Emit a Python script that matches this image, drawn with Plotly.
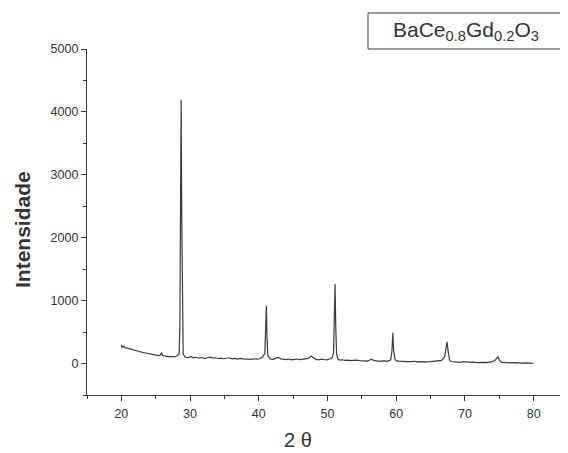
import plotly.graph_objects as go

two_theta = [
    20.0, 20.1, 20.3, 20.6, 21.0, 21.4, 21.8, 22.2, 22.6, 23.0, 23.4, 23.8, 24.2, 24.6, 25.0, 25.4,
    25.7, 25.85, 26.0, 26.4, 26.8, 27.2, 27.6, 28.0, 28.4, 28.52, 28.61, 28.7, 28.79, 28.88, 29.0,
    29.3, 29.7, 30.1, 30.5, 30.9, 31.3, 31.7, 32.1, 32.5, 32.9, 33.3, 33.7, 34.1, 34.5, 34.9,
    35.3, 35.7, 36.1, 36.5, 36.9, 37.3, 37.7, 38.1, 38.5, 38.9, 39.3, 39.7, 40.1, 40.5, 40.88,
    41.0, 41.1, 41.2, 41.32, 41.7, 42.1, 42.4, 42.8, 43.2, 43.6, 44.0, 44.4, 44.8, 45.2, 45.6,
    46.0, 46.4, 46.8, 47.2, 47.6, 47.9, 48.3, 48.7, 49.1, 49.5, 49.9, 50.3, 50.7, 50.88, 51.0,
    51.1, 51.2, 51.32, 51.5, 51.8, 52.2, 52.6, 53.0, 53.4, 53.8, 54.2, 54.6, 55.0, 55.4, 55.8,
    56.1, 56.4, 56.8, 57.2, 57.6, 58.0, 58.4, 58.8, 59.2, 59.38, 59.5, 59.62, 59.8, 60.0, 60.3,
    60.6, 61.0, 61.4, 61.8, 62.2, 62.6, 63.0, 63.4, 63.8, 64.2, 64.6, 65.0, 65.4, 65.8, 66.2,
    66.6, 67.05, 67.25, 67.4, 67.55, 67.75, 68.0, 68.4, 68.8, 69.2, 69.6, 70.0, 70.4, 70.8, 71.2,
    71.6, 72.0, 72.4, 72.8, 73.2, 73.6, 74.0, 74.4, 74.6, 74.8, 75.0, 75.25, 75.6, 76.0, 76.4,
    76.8, 77.2, 77.6, 78.0, 78.4, 78.8, 79.2, 79.6, 80.0,
]

intensity = [
    300, 255, 275, 250, 240, 225, 215, 205, 192, 180, 170, 160, 150, 140, 132, 125,
    135, 175, 128, 115, 110, 112, 105, 115, 150, 600, 2600, 4190, 2300, 480, 150,
    100, 95, 108, 90, 100, 85, 96, 80, 92, 102, 86, 92, 80, 86, 76,
    82, 92, 75, 82, 70, 82, 74, 70, 76, 66, 76, 70, 76, 95, 160,
    470, 915, 400, 120, 75, 66, 82, 98, 75, 70, 64, 72, 60, 66, 72,
    62, 66, 76, 82, 120, 95, 66, 60, 70, 64, 60, 72, 95, 180, 600,
    1265, 580, 160, 72, 55, 60, 50, 55, 45, 50, 55, 45, 40, 45, 40,
    52, 68, 45, 40, 36, 42, 36, 40, 60, 200, 490, 220, 75, 45, 38,
    32, 36, 30, 25, 31, 36, 26, 31, 25, 30, 25, 31, 36, 30, 35,
    50, 110, 250, 345, 200, 60, 32, 26, 30, 20, 26, 20, 25, 20, 25,
    15, 20, 25, 20, 15, 24, 30, 55, 85, 108, 60, 26, 18, 14, 20,
    10, 15, 10, 15, 6, 10, 5, 10, 5,
]

x_range = [15, 85]
y_range = [-500, 5000]
x_tickvals = [20, 30, 40, 50, 60, 70, 80]
y_tickvals = [0, 1000, 2000, 3000, 4000, 5000]

# the page body adds an 8px offset; work in window pixels and shift
OFF = 8
W, H = 568 - OFF, 453 - OFF
ML, MR, MT, MB = 87 - OFF, 0, 49 - OFF, 58
pw = W - ML - MR
ph = H - MT - MB

def px_x(p):
    return (p - OFF - ML) / pw

def px_y(p):
    return (H - MB - (p - OFF)) / ph

ink = "#3a3a3a"
font_family = "Liberation Sans, Arial, sans-serif"

fig = go.Figure()
fig.add_trace(go.Scatter(
    x=two_theta, y=intensity, mode="lines",
    line=dict(color=ink, width=1.2), showlegend=False, hoverinfo="skip",
))

axis_common = dict(
    showline=True, linecolor=ink, linewidth=1.2, mirror=False,
    showgrid=False, zeroline=False,
    ticks="outside", ticklen=5, tickwidth=1, tickcolor=ink,
    tickfont=dict(family=font_family, size=12.5, color="#333333"),
)

fig.update_xaxes(
    range=x_range, tickvals=x_tickvals,
    minor=dict(dtick=5, tick0=15, ticks="outside", ticklen=3, tickcolor=ink, showgrid=False),
    ticklabelstandoff=2,
    **axis_common,
)
fig.update_yaxes(
    range=y_range, tickvals=y_tickvals,
    minor=dict(dtick=500, tick0=0, ticks="outside", ticklen=3, tickcolor=ink, showgrid=False),
    **axis_common,
)

fig.add_annotation(
    text="<b>Intensidade</b>", xref="paper", yref="paper",
    x=px_x(22), y=px_y(230), xanchor="center", yanchor="middle",
    textangle=-90, showarrow=False,
    font=dict(family=font_family, size=21, color="#333333"),
)
fig.add_annotation(
    text="2 θ", xref="paper", yref="paper",
    x=px_x(298), y=px_y(440), xanchor="center", yanchor="middle",
    showarrow=False,
    font=dict(family=font_family, size=20, color="#333333"),
)

fig.add_shape(
    type="rect", xref="paper", yref="paper",
    x0=px_x(368), x1=px_x(563), y0=px_y(49), y1=px_y(13),
    line=dict(color=ink, width=1), fillcolor="rgba(0,0,0,0)",
)
fig.add_annotation(
    text="BaCe<sub>0.8</sub>Gd<sub>0.2</sub>O<sub>3</sub>", xref="paper", yref="paper",
    x=px_x(466), y=px_y(31), xanchor="center", yanchor="middle",
    showarrow=False,
    font=dict(family=font_family, size=21, color="#333333"),
)

fig.update_layout(
    width=W, height=H,
    margin=dict(l=ML, r=MR, t=MT, b=MB, pad=0),
    paper_bgcolor="white", plot_bgcolor="white",
    showlegend=False,
)

fig.write_html("out.html")
